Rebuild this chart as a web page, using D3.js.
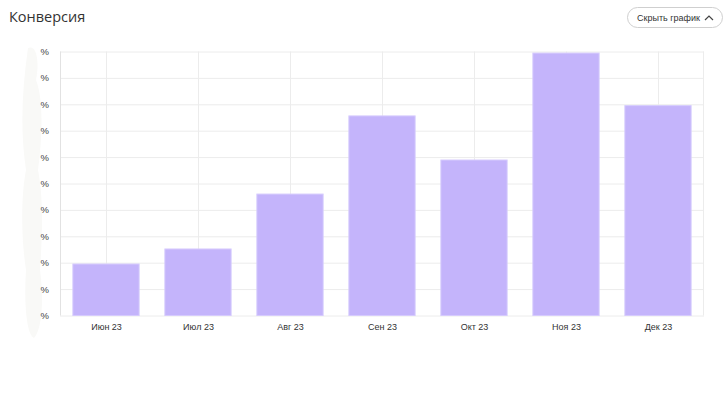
<!DOCTYPE html>
<html><head><meta charset="utf-8">
<script src="https://cdn.jsdelivr.net/npm/d3@7"></script>
<style>
html,body{margin:0;padding:0;background:#fff;}
svg{display:block;font-family:"Liberation Sans",Arial,sans-serif;}
</style></head>
<body>
<svg id="c" width="728" height="420"></svg>
<script>
const categories = ["Июн 23","Июл 23","Авг 23","Сен 23","Окт 23","Ноя 23","Дек 23"];
const values = [1.95, 2.52, 4.60, 7.56, 5.89, 9.94, 7.95];
const yTicks = [0,1,2,3,4,5,6,7,8,9,10];
const yTickLabels = ["%","%","%","%","%","%","%","%","%","%","%"];
const title = "Конверсия";
const buttonLabel = "Скрыть график";

const svg = d3.select("#c");
const m = {left:60, right:24, top:51.5, bottom:104.5};
const W = 728, H = 420;
const iw = W - m.left - m.right, ih = H - m.top - m.bottom;

// faint smudge on the left
svg.append("path")
  .attr("d","M28,48 C36,44 40,60 36,80 C44,100 42,140 38,170 C44,200 42,240 40,270 C44,300 42,330 34,338 C26,334 24,300 26,270 C20,230 22,190 26,170 C20,130 22,90 28,48 Z")
  .attr("fill","#f9f9f7");

svg.append("text").attr("x",9).attr("y",22).attr("font-size",14.5)
  .attr("fill","#333").attr("font-family","'Open Sans','Noto Sans',sans-serif").text(title);

// button
const bg = svg.append("g");
bg.append("rect").attr("x",627.5).attr("y",7.5).attr("width",95).attr("height",20).attr("rx",10)
  .attr("fill","#fff").attr("stroke","#cfcfcf");
bg.append("text").attr("x",637).attr("y",21).attr("font-size",9).attr("textLength",63).attr("fill","#333").text(buttonLabel);
bg.append("path").attr("d","M705,20 L709,16 L713,20").attr("fill","none").attr("stroke","#444").attr("stroke-width",1.2);

const g = svg.append("g").attr("transform",`translate(${m.left},${m.top})`);
const x = d3.scaleBand().domain(categories).range([0,iw]).paddingInner(0.28).paddingOuter(0.14);
const xc = d3.scalePoint().domain(categories).range([0,iw]).padding(0.5);
const y = d3.scaleLinear().domain([0,10]).range([ih,0]);

// grid
g.append("g").selectAll("line").data(yTicks).join("line")
  .attr("x1",0).attr("x2",iw).attr("y1",d=>y(d)+0.5).attr("y2",d=>y(d)+0.5)
  .attr("stroke","#ececec");
g.append("g").selectAll("line").data(categories).join("line")
  .attr("x1",d=>Math.round(xc(d))+0.5).attr("x2",d=>Math.round(xc(d))+0.5).attr("y1",0).attr("y2",ih)
  .attr("stroke","#ececec");
g.append("line").attr("x1",iw-0.5).attr("x2",iw-0.5).attr("y1",0).attr("y2",ih).attr("stroke","#ececec");
g.append("line").attr("x1",0.5).attr("x2",0.5).attr("y1",0).attr("y2",ih).attr("stroke","#e2e2e2");

// bars
g.append("g").selectAll("rect").data(values).join("rect")
  .attr("x",(d,i)=>x(categories[i])).attr("width",x.bandwidth())
  .attr("y",d=>y(d)).attr("height",d=>ih-y(d))
  .attr("fill","#c4b4fb").attr("stroke","#d6cbfd").attr("stroke-width",1);

// y axis
const ya = d3.axisLeft(y).tickValues(yTicks).tickFormat((d,i)=>yTickLabels[i]).tickSize(0).tickPadding(11);
const yg = g.append("g").call(ya);
yg.select(".domain").remove();
yg.selectAll("text").attr("font-size",9.5).attr("fill","#444");

// x axis
const xa = d3.axisBottom(xc).tickSize(0).tickPadding(8);
const xg = g.append("g").attr("transform",`translate(0,${ih})`).call(xa);
xg.select(".domain").remove();
xg.selectAll("text").attr("font-size",9).attr("fill","#333");
</script>
</body></html>
